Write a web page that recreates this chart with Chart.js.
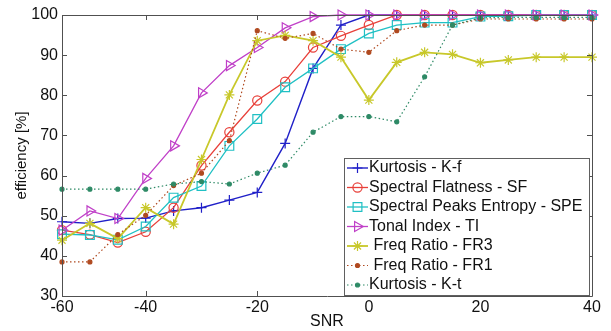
<!DOCTYPE html>
<html><head><meta charset="utf-8">
<script src="https://cdn.jsdelivr.net/npm/chart.js@4/dist/chart.umd.min.js"></script>
<style>html,body{margin:0;padding:0;background:#fff;}#wrap{width:611px;height:331px;}</style>
</head><body><div id="wrap"><canvas id="c" width="611" height="331"></canvas></div>
<script>
const snr = [-55,-50,-45,-40,-35,-30,-25,-20,-15,-10,-5,0,5,10,15,20,25,30,35,40];
const xTickValues = [-55,-40,-20,0,20,40];
const xTickLabels = ['-60','-40','-20','0','20','40'];
const kurtosisKf = [48.5,48.1,49.3,49.4,51.2,52.0,53.9,55.8,68.0,86.7,97.5,100,100,100,100,100,100,100,100,100];
const spectralFlatness = [46.4,45.3,43.3,46.0,52.0,62.5,70.8,78.7,83.4,91.9,94.8,97.5,100,100,100,100,100,100,100,100];
const spectralPeaksEntropy = [45.4,45.2,44.0,47.3,54.5,57.4,67.4,74.1,82.0,86.7,91.5,95.4,97.5,98.1,98.1,99.6,99.7,100,100,100];
const tonalIndex = [46.4,51.2,49.3,59.3,67.4,80.6,87.4,91.9,96.8,99.6,100,100,100,100,100,100,100,100,100,100];
const freqRatioFR3 = [43.9,48.1,44.3,52.0,47.9,64.0,80.1,93.6,94.9,93.6,89.5,78.8,88.2,90.7,90.2,88.1,88.8,89.5,89.5,89.5];
const freqRatioFR1 = [38.5,38.5,45.3,50.1,57.5,60.6,68.7,96.1,94.2,95.4,91.5,90.7,96.1,97.5,97.5,99.0,99.0,99.0,99.0,99.0];
const kurtosisKt = [56.6,56.6,56.6,56.6,57.9,58.5,57.9,60.6,62.6,70.8,74.7,74.7,73.4,84.6,97.5,99.3,99.4,99.4,99.4,99.4];
const seriesLabels = ['Kurtosis - K-f','Spectral Flatness - SF','Spectral Peaks Entropy - SPE','Tonal Index - TI',' Freq Ratio - FR3',' Freq Ratio - FR1','Kurtosis - K-t'];

const styles = [
  {c:'#2020c8', p:'cross', r:5, w:1.4, dash:[]},
  {c:'#e8403a', p:'circle', r:4.6, w:1.3, dash:[]},
  {c:'#20c0c4', p:'rect', r:6.2, w:1.3, dash:[]},
  {c:'#c040c8', p:'triangle', r:5.8, w:1.3, dash:[], rot:90},
  {c:'#c8c82a', p:'star', r:5, w:1.8, dash:[]},
  {c:'#b04a20', p:'circle', r:2, w:1.2, dash:[1.5,2.5], fill:true},
  {c:'#2e8a66', p:'circle', r:2, w:1.2, dash:[1.5,2.5], fill:true}
];
const values = [kurtosisKf,spectralFlatness,spectralPeaksEntropy,tonalIndex,freqRatioFR3,freqRatioFR1,kurtosisKt];

const datasets = values.map((v,i)=>({
  label: seriesLabels[i],
  data: snr.map((x,j)=>({x:x,y:v[j]})),
  borderColor: styles[i].c,
  backgroundColor: styles[i].fill ? styles[i].c : 'rgba(0,0,0,0)',
  pointBorderColor: styles[i].c,
  pointBackgroundColor: styles[i].fill ? styles[i].c : 'rgba(0,0,0,0)',
  borderWidth: styles[i].w,
  borderDash: styles[i].dash,
  pointStyle: styles[i].p,
  pointRadius: styles[i].r,
  pointBorderWidth: 1.2,
  pointRotation: styles[i].rot || 0,
  tension: 0,
  fill: false,
  clip: false,
  order: -i
}));

const FONT = '"Liberation Sans", Arial, sans-serif';

const frame = {
  id:'frame',
  afterDraw(chart){
    const ctx = chart.ctx, a = chart.chartArea;
    const xs = chart.scales.x, ys = chart.scales.y;
    ctx.save();
    ctx.strokeStyle = '#505050';
    ctx.lineWidth = 1;
    ctx.beginPath();
    ctx.rect(Math.round(a.left)+0.5, Math.round(a.top)+0.5, Math.round(a.right-a.left), Math.round(a.bottom-a.top));
    ctx.stroke();
    ctx.beginPath();
    xTickValues.forEach(v=>{
      const px = Math.round(xs.getPixelForValue(v))+0.5;
      ctx.moveTo(px, a.bottom); ctx.lineTo(px, a.bottom-5);
      ctx.moveTo(px, a.top); ctx.lineTo(px, a.top+5);
    });
    ys.ticks.forEach(t=>{
      const py = Math.round(ys.getPixelForValue(t.value))+0.5;
      ctx.moveTo(a.left, py); ctx.lineTo(a.left+5, py);
      ctx.moveTo(a.right, py); ctx.lineTo(a.right-5, py);
    });
    ctx.stroke();
    // legend
    const bx=344.5, by=158.5, bw=245, bh=137;
    ctx.fillStyle='#fff';
    ctx.fillRect(bx,by,bw,bh);
    ctx.strokeStyle='#606060';
    ctx.strokeRect(bx,by,bw,bh);
    ctx.font = '16px ' + FONT;
    ctx.textBaseline = 'middle';
    chart.data.datasets.forEach((ds,i)=>{
      const y = 168 + i*19.5;
      const s = styles[i];
      ctx.save();
      ctx.strokeStyle = s.c; ctx.lineWidth = s.w; ctx.setLineDash(s.dash);
      ctx.beginPath(); ctx.moveTo(347,y); ctx.lineTo(368,y); ctx.stroke();
      ctx.restore();
      const opts = {pointStyle:s.p, radius:s.r, rotation:s.rot||0, borderWidth:1.2};
      ctx.save();
      ctx.strokeStyle = s.c; ctx.fillStyle = s.fill ? s.c : 'rgba(0,0,0,0)'; ctx.lineWidth=1.2;
      if (Chart.helpers && Chart.helpers.drawPoint) Chart.helpers.drawPoint(ctx, opts, 357.5, y);
      ctx.restore();
      ctx.fillStyle = '#111';
      ctx.fillText(ds.label, 369, y);
    });
    ctx.restore();
  }
};

new Chart(document.getElementById('c'), {
  type:'line',
  data:{datasets},
  plugins:[frame],
  options:{
    responsive:false,
    animation:false,
    layout:{padding:{top:15,right:19,left:0,bottom:0}},
    plugins:{legend:{display:false},tooltip:{enabled:false},title:{display:false}},
    scales:{
      x:{
        type:'linear', min:-55, max:40,
        grid:{display:false, drawTicks:false},
        border:{display:false},
        afterBuildTicks(scale){ scale.ticks = xTickValues.map(v=>({value:v})); },
        afterFit(scale){ scale.height = 35; },
        ticks:{
          autoSkip:false, maxRotation:0, padding:2, color:'#111',
          font:{size:16, family:FONT},
          callback:(v)=>{ const k = xTickValues.indexOf(v); return k>=0 ? xTickLabels[k] : ''; }
        },
        title:{display:true, text:'SNR', color:'#111', padding:{top:0,bottom:0},
          font:{size:16, family:FONT}}
      },
      y:{
        min:30, max:100,
        grid:{display:false, drawTicks:false},
        border:{display:false},
        afterFit(scale){ scale.width = 62; },
        ticks:{stepSize:10, padding:4, color:'#111',
          font:{size:16, family:FONT}},
        title:{display:true, text:'efficiency [%]', color:'#111', padding:{top:13,bottom:0},
          font:{size:15, family:FONT}}
      }
    }
  }
});
</script></body></html>
